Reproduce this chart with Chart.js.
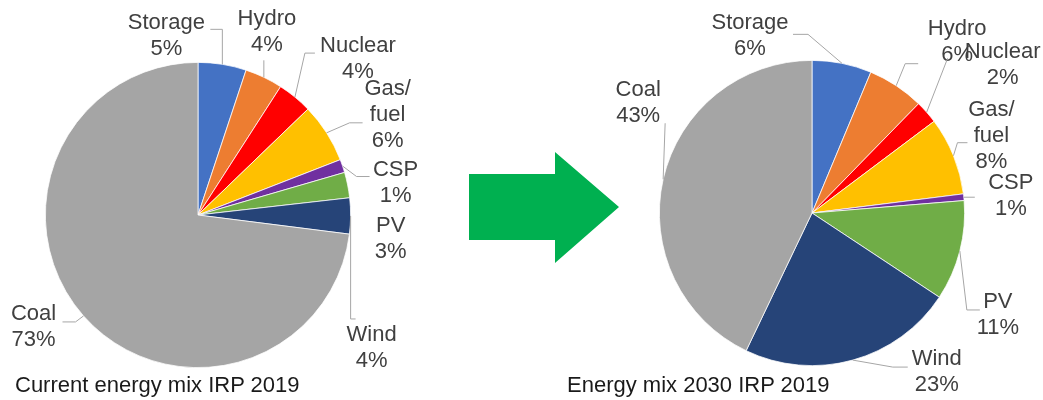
<!DOCTYPE html>
<html>
<head>
<meta charset="utf-8">
<script src="https://cdn.jsdelivr.net/npm/chart.js@4/dist/chart.umd.min.js"></script>
<style>
	body { margin: 0; background: #fff; width: 1043px; height: 400px; overflow: hidden; position: relative; font-family: "Liberation Sans", Arial, sans-serif; }
	#graficoMixAtual { position: absolute; left: 0; top: 0; }
	#graficoMix2030 { position: absolute; left: 520px; top: 0; }
	.seta { position: absolute; left: 469px; top: 152px; width: 150px; height: 111px; background: #00B050; z-index: 2;
		clip-path: polygon(0 22px, 86px 22px, 86px 0, 150px 55px, 86px 111px, 86px 88px, 0 88px); }
	.legenda { position: absolute; top: 372px; font-size: 22px; color: #1a1a1a; line-height: 26px; white-space: nowrap; }
</style>
</head>
<body>
<canvas id="graficoMixAtual" width="520" height="400"></canvas>
<canvas id="graficoMix2030" width="523" height="400"></canvas>
<div class="seta"></div>
<div class="legenda" id="legendaAtual" style="left:15px"></div>
<div class="legenda" id="legenda2030" style="left:567px"></div>
<script>
var categorias = ['Storage', 'Hydro', 'Nuclear', 'Gas/fuel', 'CSP', 'PV', 'Wind', 'Coal'];
var mixAtual = [5.1, 4.0, 3.7, 6.3, 1.4, 2.7, 3.8, 73.0];
var mix2030 = [6.3, 6.0, 2.45, 8.25, 0.7, 10.6, 22.8, 42.9];
var titulos = ['Current energy mix IRP 2019', 'Energy mix 2030 IRP 2019'];

var cores = ['#4472C4', '#ED7D31', '#FF0000', '#FFC000', '#7030A0', '#70AD47', '#264478', '#A5A5A5'];

// posicao dos rotulos relativa ao ponto medio da borda de cada fatia
var rotulosAtual = [
	{ dx: -56, dy: -28, linha: [[0, -35], [-12, -35]] },
	{ dx: 3, dy: -45, linha: [[0, -17]] },
	{ dx: 63, dy: -38, linha: [[10, -44], [20, -44]] },
	{ dx: 61, dy: -18, linha: [[23, -10], [36, -10]] },
	{ dx: 53, dy: 17, linha: [[14, 10.5], [27, 10.5]] },
	{ dx: 43, dy: 54, linha: [] },
	{ dx: 21, dy: 132, linha: [[0, 103], [5, 103]] },
	{ dx: -50, dy: 11, linha: [[-8, 6], [-21, 6]] }
];
var rotulos2030 = [
	{ dx: -92, dy: -27, linha: [[-34, -29], [-49, -29]] },
	{ dx: 61, dy: -44, linha: [[9, -22], [22, -22]] },
	{ dx: 76, dy: -47, linha: [[21, -54]] },
	{ dx: 38, dy: -20, linha: [[4, -13], [14, -13]] },
	{ dx: 47, dy: -1, linha: [[11, 0]] },
	{ dx: 38, dy: 64, linha: [[7, 59], [20, 59]] },
	{ dx: 84, dy: 12, linha: [[40, 7], [55, 7]] },
	{ dx: -25, dy: -76, linha: [[2, -56]] }
];

var pluginRotulos = {
	id: 'rotulosPizza',
	afterDatasetsDraw: function(chart, args, opts) {
		var ctx = chart.ctx;
		var meta = chart.getDatasetMeta(0);
		var valores = chart.data.datasets[0].data;
		ctx.save();
		ctx.font = '22px "Liberation Sans", Arial, sans-serif';
		ctx.textAlign = 'center';
		ctx.textBaseline = 'middle';
		meta.data.forEach(function(arco, i) {
			var p = arco.getProps(['x', 'y', 'startAngle', 'endAngle', 'outerRadius'], true);
			var meio = (p.startAngle + p.endAngle) / 2;
			var bx = p.x + Math.cos(meio) * p.outerRadius;
			var by = p.y + Math.sin(meio) * p.outerRadius;
			var cfg = opts.rotulos[i];

			if (cfg.linha.length) {
				ctx.strokeStyle = '#A6A6A6';
				ctx.lineWidth = 1;
				ctx.beginPath();
				ctx.moveTo(bx, by);
				cfg.linha.forEach(function(pt) {
					ctx.lineTo(bx + pt[0], by + pt[1]);
				});
				ctx.stroke();
			}

			var linhas = chart.data.labels[i].replace('/', '/\n').split('\n');
			linhas.push(Math.round(valores[i]) + '%');
			var cx = bx + cfg.dx;
			var cy = by + cfg.dy - (linhas.length - 1) * 13;
			ctx.fillStyle = '#404040';
			linhas.forEach(function(txt, k) {
				ctx.fillText(txt, cx, cy + k * 26);
			});
		});
		ctx.restore();
	}
};

function criarPizza(id, valores, rotulos, padding) {
	return new Chart(document.getElementById(id).getContext('2d'), {
		type: 'pie',
		data: {
			labels: categorias,
			datasets: [{
				data: valores,
				backgroundColor: cores,
				borderColor: '#ffffff',
				borderWidth: 0.75
			}]
		},
		options: {
			responsive: false,
			animation: false,
			layout: { padding: padding },
			plugins: {
				legend: { display: false },
				tooltip: { enabled: false },
				rotulosPizza: { rotulos: rotulos }
			}
		},
		plugins: [pluginRotulos]
	});
}

criarPizza('graficoMixAtual', mixAtual, rotulosAtual, { left: 45, top: 62, right: 169, bottom: 32 });
criarPizza('graficoMix2030', mix2030, rotulos2030, { left: 139, top: 60, right: 78, bottom: 34 });

document.getElementById('legendaAtual').textContent = titulos[0];
document.getElementById('legenda2030').textContent = titulos[1];
</script>
</body>
</html>
